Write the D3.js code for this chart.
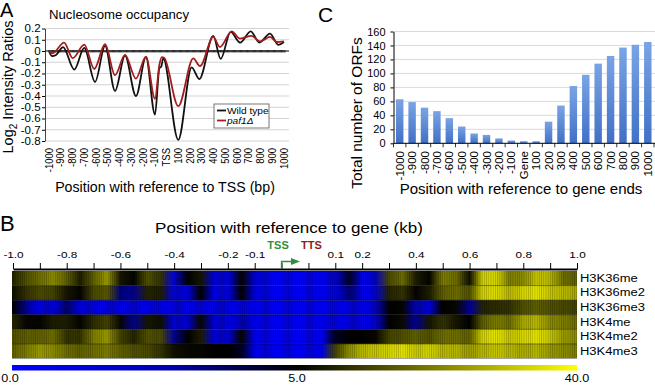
<!doctype html>
<html lang="en">
<head>
<meta charset="utf-8">
<title>Nucleosome occupancy, ORF counts and histone marks</title>
<script src="https://cdnjs.cloudflare.com/ajax/libs/d3/7.8.5/d3.min.js"></script>
<style>
  body { margin: 0; background: #fff; }
  svg { display: block; font-family: "Liberation Sans", Arial, Helvetica, sans-serif; }
</style>
</head>
<body>
<svg id="svg" width="655" height="385"></svg>
<script>
// ---------- panel A : nucleosome occupancy ----------
var aTickLabels = ['-1000','-900','-800','-700','-600','-500','-400','-300','-200','-100','TSS',
                   '100','200','300','400','500','600','700','800','900','1000'];
var aTickBp = [-1000,-900,-800,-700,-600,-500,-400,-300,-200,-100,0,100,200,300,400,500,600,700,800,900,1000];
var aYTicks = [0.2,0.1,0,-0.1,-0.2,-0.3,-0.4,-0.5,-0.6,-0.7,-0.8];

// wild type (black)
var wtBp    = [-1000,-975,-940,-880,-785,-700,-608,-523,-438,-353,-260,-175,-98,-60,-45,-28,100,214,279,398,461,546,626,717,790,881,951,1000];
var wtRatio = [0.0,-0.045,-0.035,0.035,-0.165,0.027,-0.275,0.045,-0.355,-0.04,-0.40,-0.055,-0.565,-0.15,-0.14,-0.065,-0.79,-0.145,-0.25,0.135,-0.07,0.17,0.075,0.175,0.075,0.155,0.055,0.08];
// paf1 deletion (red)
var pafBp    = [-1000,-970,-872,-798,-700,-615,-523,-438,-353,-260,-175,-98,-60,-40,-20,100,228,285,398,455,555,626,725,796,881,938,1000];
var pafRatio = [0.0,-0.02,0.075,-0.063,0.057,-0.16,0.06,-0.215,-0.035,-0.245,-0.05,-0.425,-0.12,-0.055,-0.06,-0.49,-0.065,-0.135,0.125,0.035,0.175,0.11,0.135,0.085,0.125,0.08,0.085];

// ---------- panel C : ORFs per position ----------
var cCategories = ['-1000','-900','-800','-700','-600','-500','-400','-300','-200','-100','Gene',
                   '100','200','300','400','500','600','700','800','900','1000'];
var cOrfs = [63,59,51,46,36,24,14,12,7,4,3,3,31,54,82,98,114,125,137,141,145];
var cYTicks = [0,20,40,60,80,100,120,140,160];

// ---------- panel B : histone mark heatmap ----------
var bTickLabels = ['-1.0','','-0.8','','-0.6','','-0.4','','-0.2','-0.1','','','0.1','0.2','','0.4','','0.6','','0.8','','1.0'];
var bMarks = ['H3K36me','H3K36me2','H3K36me3','H3K4me','H3K4me2','H3K4me3'];
// one value every half tick (43 per row), scale 0..40
var bH3K36me  = [10,16,20,24,18,9,18,26,8,5.5,16,12,1,5,8,1.5,1,5.5,2,0.5,0.5,0.5,0.5,0.8,1.5,4.5,1,1.5,15,20,9,5.5,22,20,7,34,34,22,24,32,30,20,18];
var bH3K36me2 = [7,12,15,14,8,5.5,15,17,3.5,3,10,9,1,1.5,5,1,1,5,1.5,0.5,0.5,0.5,0.5,0.8,1,3.5,1,1,10,12,5.5,9,18,20,16,34,35,30,34,36,32,30,28];
var bH3K36me3 = [5,3,1,1.5,3.5,1.5,1,1,1,1,1,1,1,1,1,1,1,1,0.8,0.5,0.5,0.5,0.5,0.5,0.8,1,1,1.5,5,5.5,2.5,1.5,5,6,3,10,11,12,16,18,16,15,14];
var bH3K4me   = [10,6,5.5,9,9,5.5,11,14,6,3,8,7,1,2,6,1.5,1,2.5,1,0.5,0.5,0.5,0.5,0.8,1,1,1,1,5,6.5,3,8,12,8,5,18,22,20,28,30,24,22,20];
var bH3K4me2  = [16,18,18,20,12,12,22,26,14,10,16,15,3,5,9,1.5,1.5,5.5,1,0.5,0.5,0.5,0.5,0.8,4.5,5,5,6,14,16,18,16,20,20,18,34,36,32,34,36,32,26,24];
var bH3K4me3  = [18,22,26,24,20,18,20,22,18,16,15,12,7,6,6,5,5,4.5,1,0.5,0.5,0.5,0.5,1,14,24,30,32,34,36,32,34,30,30,26,30,32,30,28,30,26,24,22];
var bRows = [bH3K36me, bH3K36me2, bH3K36me3, bH3K4me, bH3K4me2, bH3K4me3];
var bScaleValues = [0, 5, 40];
var bScaleLabels = ['0.0', '5.0', '40.0'];
// colour ramp of the heatmap: value -> colour
var bColorValues = [0, 2.7, 5, 40];
var bColors = ['#0000ff', '#0000b4', '#000000', '#ffff00'];

var svg = d3.select('#svg');
var defs = svg.append('defs');

// text helper; sx widens glyphs like the stretched original figure
function label(g, x, y, str, size, o) {
  o = o || {};
  var sx = o.sx || 1;
  var tr = 'translate(' + x + ',' + y + ')' +
    (o.rot ? ' rotate(' + o.rot + ') scale(1,' + sx + ')' : ' scale(' + sx + ',1)');
  return g.append('text').attr('transform', tr).attr('font-size', size)
    .attr('text-anchor', o.anchor || 'start').attr('fill', o.fill || '#000')
    .attr('font-weight', o.weight || null).attr('font-style', o.style || null)
    .text(str);
}

// ================= A =================
var gA = svg.append('g');
var xA = d3.scaleLinear().domain([-1000, 1000]).range([49, 284]);
var yA = d3.scaleLinear().domain([-0.8, 0.2]).range([141, 28.5]);

gA.selectAll('.gridA').data(aYTicks).enter().append('line')
  .attr('class', 'gridA')
  .attr('x1', 45).attr('x2', 289)
  .attr('y1', function(d) { return yA(d); }).attr('y2', function(d) { return yA(d); })
  .attr('stroke', '#c8c8c8').attr('stroke-width', 0.8);

var ayA = gA.append('g').attr('transform', 'translate(45,0)')
  .call(d3.axisLeft(yA).tickValues(aYTicks).tickSize(3).tickSizeOuter(0).tickPadding(1)
    .tickFormat(function(d) { return d === 0 ? '0' : d.toFixed(1); }));
ayA.attr('font-family', null).attr('font-size', null);
ayA.selectAll('text').attr('font-size', 10.5).attr('transform', 'scale(1.1,1)');
ayA.select('.domain').attr('stroke', '#444');

// zero line with one small tick per 10 bp
var zA = gA.append('g').attr('transform', 'translate(0,' + (yA(0) - 1) + ')')
  .call(d3.axisBottom(xA).tickValues(d3.range(-1005, 1006, 10)).tickSize(2.5).tickFormat(''));
zA.select('.domain').remove();
zA.selectAll('line').attr('stroke-width', 0.7);
gA.append('line').attr('x1', 45).attr('x2', 289).attr('y1', yA(0)).attr('y2', yA(0))
  .attr('stroke', '#000').attr('stroke-width', 0.9);

aTickBp.forEach(function(bp, i) {
  label(gA, xA(bp) + 3.6, 148, aTickLabels[i], 9.5, { rot: -90, anchor: 'end', sx: 1.1 });
});

var lineA = d3.line()
  .x(function(d) { return xA(d[0]); })
  .y(function(d) { return yA(d[1]); })
  .curve(d3.curveMonotoneX);
gA.append('path').datum(d3.zip(wtBp, wtRatio)).attr('d', lineA)
  .attr('fill', 'none').attr('stroke', '#111').attr('stroke-width', 1.8);
gA.append('path').datum(d3.zip(pafBp, pafRatio)).attr('d', lineA)
  .attr('fill', 'none').attr('stroke', '#a31d1d').attr('stroke-width', 1.8);

// legend
gA.append('rect').attr('x', 214).attr('y', 104).attr('width', 55).attr('height', 24)
  .attr('fill', '#fff').attr('stroke', '#555').attr('stroke-width', 0.8);
gA.append('line').attr('x1', 217).attr('x2', 226).attr('y1', 110.5).attr('y2', 110.5)
  .attr('stroke', '#111').attr('stroke-width', 1.8);
gA.append('line').attr('x1', 217).attr('x2', 226).attr('y1', 120.5).attr('y2', 120.5)
  .attr('stroke', '#a31d1d').attr('stroke-width', 1.8);
label(gA, 227, 114, 'Wild type', 9.2, { sx: 1.1 });
label(gA, 227, 124, 'paf1\u0394', 9.2, { sx: 1.1, style: 'italic' });

label(gA, 0, 17, 'A', 20);
label(gA, 49, 18.5, 'Nucleosome occupancy', 13.2);
label(gA, 165, 192, 'Position with reference to TSS (bp)', 14.2, { anchor: 'middle' });
var yLab = label(gA, 13, 87, 'Log', 14.5, { rot: -90, anchor: 'middle' });
yLab.append('tspan').attr('font-size', 10).attr('dy', 4).text('2');
yLab.append('tspan').attr('dy', -4).text(' Intensity Ratios');

// ================= C =================
var gC = svg.append('g');
var xC = d3.scaleBand().domain(cCategories).range([393.5, 654]).paddingInner(0.4).paddingOuter(0.2);
var yC = d3.scaleLinear().domain([0, 160]).range([143.3, 31.5]);

var grad = defs.append('linearGradient').attr('id', 'barGrad')
  .attr('x1', 0).attr('y1', 0).attr('x2', 0).attr('y2', 1);
grad.append('stop').attr('offset', 0).attr('stop-color', '#7aa4e4');
grad.append('stop').attr('offset', 1).attr('stop-color', '#4170c6');

gC.selectAll('.gridC').data(cYTicks.slice(1)).enter().append('line')
  .attr('class', 'gridC')
  .attr('x1', 393.5).attr('x2', 655)
  .attr('y1', function(d) { return yC(d); }).attr('y2', function(d) { return yC(d); })
  .attr('stroke', '#d0d0d0').attr('stroke-width', 0.8);

gC.selectAll('.bar').data(cOrfs).enter().append('rect')
  .attr('class', 'bar')
  .attr('x', function(d, i) { return xC(cCategories[i]); })
  .attr('width', xC.bandwidth())
  .attr('y', function(d) { return yC(d); })
  .attr('height', function(d) { return yC(0) - yC(d); })
  .attr('fill', 'url(#barGrad)');

var ayC = gC.append('g').attr('transform', 'translate(393.5,0)')
  .call(d3.axisLeft(yC).tickValues(cYTicks).tickSize(3).tickSizeOuter(0).tickPadding(5));
ayC.attr('font-family', null).attr('font-size', null);
ayC.selectAll('text').attr('font-size', 11);

gC.append('line').attr('x1', 393.5).attr('x2', 655).attr('y1', yC(0)).attr('y2', yC(0))
  .attr('stroke', '#000').attr('stroke-width', 1);
var stepC = xC.step();
var gapC = (stepC - xC.bandwidth()) / 2;
gC.selectAll('.tickC').data(cCategories.concat(['end'])).enter().append('line')
  .attr('class', 'tickC')
  .attr('x1', function(d, i) { return xC(cCategories[0]) - gapC + i * stepC; })
  .attr('x2', function(d, i) { return xC(cCategories[0]) - gapC + i * stepC; })
  .attr('y1', yC(0)).attr('y2', yC(0) + 4)
  .attr('stroke', '#000').attr('stroke-width', 0.8);

cCategories.forEach(function(c) {
  label(gC, xC(c) + xC.bandwidth() / 2 + 4.1, 151, c, 11.5, { rot: -90, anchor: 'end' });
});

label(gC, 318, 22, 'C', 21);
label(gC, 521, 194, 'Position with reference to gene ends', 15, { anchor: 'middle' });
label(gC, 362, 113, 'Total number of ORFs', 15.5, { rot: -90, anchor: 'middle' });

// ================= B =================
var gB = svg.append('g');
var xB = d3.scaleLinear().domain([0, 21]).range([13, 577]);
var yB = d3.scaleBand().domain(bMarks).range([271, 358.5]);
var color = d3.scaleLinear().domain(bColorValues).range(bColors);

bRows.forEach(function(vals, r) {
  var g = defs.append('linearGradient').attr('id', 'row' + r)
    .attr('gradientUnits', 'userSpaceOnUse')
    .attr('x1', xB(0)).attr('x2', xB(21)).attr('y1', 0).attr('y2', 0);
  g.selectAll('stop').data(vals).enter().append('stop')
    .attr('offset', function(d, i) { return i / (vals.length - 1); })
    .attr('stop-color', function(d) { return color(d); });
});

var stripes = defs.append('pattern').attr('id', 'stripes').attr('patternUnits', 'userSpaceOnUse')
  .attr('width', 2.2).attr('height', 20);
stripes.append('rect').attr('width', 0.7).attr('height', 20).attr('fill', 'rgba(0,0,0,0.22)');

gB.selectAll('.hrow').data(bMarks).enter().append('rect')
  .attr('class', 'hrow')
  .attr('x', 12).attr('width', 565)
  .attr('y', function(d) { return yB(d); }).attr('height', yB.bandwidth())
  .attr('fill', function(d, i) { return 'url(#row' + i + ')'; });
gB.append('rect').attr('x', 12).attr('width', 565).attr('y', 271).attr('height', 87.5)
  .attr('fill', 'url(#stripes)');
gB.selectAll('.hsep').data(bMarks.slice(1)).enter().append('line')
  .attr('class', 'hsep')
  .attr('x1', 12).attr('x2', 577)
  .attr('y1', function(d) { return yB(d); }).attr('y2', function(d) { return yB(d); })
  .attr('stroke', 'rgba(0,0,0,0.55)').attr('stroke-width', 0.8);
gB.append('line').attr('x1', 12).attr('x2', 577).attr('y1', 358.5).attr('y2', 358.5)
  .attr('stroke', '#999').attr('stroke-width', 0.8);

bMarks.forEach(function(m) {
  label(gB, 580, yB(m) + yB.bandwidth() / 2 + 3.5, m, 11, { sx: 1.18 });
});

var axB = gB.append('g').attr('transform', 'translate(0,269)')
  .call(d3.axisTop(xB).tickValues(bTickLabels.map(function(d, i) { return i; }))
    .tickFormat(function(d, i) { return bTickLabels[i]; })
    .tickSize(6).tickSizeOuter(0).tickPadding(5));
axB.attr('font-family', null).attr('font-size', null);
axB.selectAll('text').attr('font-size', 9.8).attr('transform', 'scale(1.2,1)');
axB.select('.domain').attr('stroke-width', 1.8);

// TSS arrow and TSS / TTS labels
var tssX = xB(10), ttsX = xB(11);
gB.append('path').attr('d', 'M' + tssX + ',269V261.5H292')
  .attr('fill', 'none').attr('stroke', '#2f8f3e').attr('stroke-width', 1.5);
gB.append('path').attr('d', 'M291,258L300,261.5L291,265Z').attr('fill', '#2f8f3e');
label(gB, tssX - 3.5, 249, 'TSS', 11, { anchor: 'middle', weight: 'bold', fill: '#2f8f3e' });
label(gB, ttsX + 3, 249, 'TTS', 11, { anchor: 'middle', weight: 'bold', fill: '#8e1b1b' });

label(gB, 0, 231, 'B', 22);
label(gB, 289, 232.5, 'Position with reference to gene (kb)', 14.2, { anchor: 'middle', sx: 1.2 });

// colour bar
var cbX = d3.scaleLinear().domain(bScaleValues).range([12, 297, 577]);
var cbGrad = defs.append('linearGradient').attr('id', 'cbGrad');
cbGrad.selectAll('stop').data(bColorValues).enter().append('stop')
  .attr('offset', function(d) { return (cbX(d) - 12) / 565; })
  .attr('stop-color', function(d) { return color(d); });
gB.append('rect').attr('x', 12).attr('y', 365).attr('width', 565).attr('height', 5.5)
  .attr('fill', 'url(#cbGrad)');
bScaleValues.forEach(function(v, i) {
  label(gB, cbX(v) + (i === 0 ? -2 : 0), 381.5, bScaleLabels[i], 10.5, { anchor: 'middle', sx: 1.2 });
});
</script>
</body>
</html>
